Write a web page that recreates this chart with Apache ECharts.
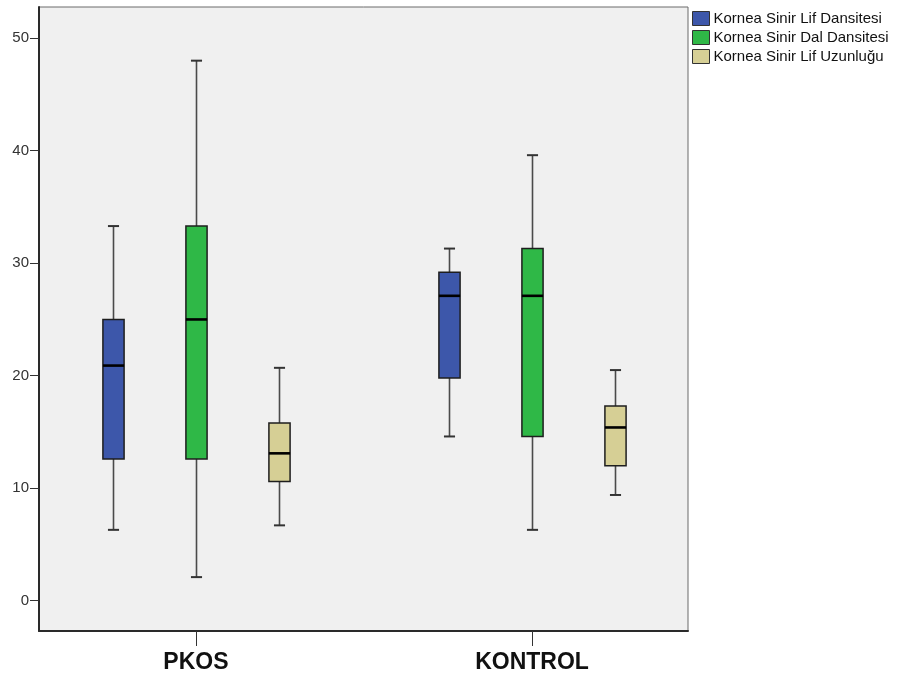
<!DOCTYPE html>
<html>
<head>
<meta charset="utf-8">
<script src="https://cdn.jsdelivr.net/npm/echarts@6/dist/echarts.min.js"></script>
<style>
html,body{margin:0;padding:0;background:#fff;}
#chart{width:897px;height:679px;}
</style>
</head>
<body>
<div id="chart"></div>
<script>
// Categories and series
const categories = ['PKOS', 'KONTROL'];
const seriesNames = ['Kornea Sinir Lif Dansitesi', 'Kornea Sinir Dal Dansitesi', 'Kornea Sinir Lif Uzunluğu'];
const yTicks = [0, 10, 20, 30, 40, 50];
// [min, Q1, median, Q3, max] per category
const lifDansitesi = [[6.3, 12.6, 20.9, 25.0, 33.3], [14.6, 19.8, 27.1, 29.2, 31.3]];
const dalDansitesi = [[2.1, 12.6, 25.0, 33.3, 48.0], [6.3, 14.6, 27.1, 31.3, 39.6]];
const lifUzunlugu  = [[6.7, 10.6, 13.1, 15.8, 20.7], [9.4, 12.0, 15.4, 17.3, 20.5]];

const allSeries = [lifDansitesi, dalDansitesi, lifUzunlugu];
const colors = ['#3d57aa', '#2fb847', '#d6cf95'];
const offsets = [-0.247, 0, 0.247];
const boxW = 0.063;
const capW = 0.033;

function renderBox(params, api) {
  const x = api.value(0);
  const pMin = api.coord([x, api.value(1)]);
  const pQ1 = api.coord([x, api.value(2)]);
  const pMed = api.coord([x, api.value(3)]);
  const pQ3 = api.coord([x, api.value(4)]);
  const pMax = api.coord([x, api.value(5)]);
  const hw = api.size([boxW, 0])[0] / 2;
  const cw = api.size([capW, 0])[0] / 2;
  const cx = Math.round(pMed[0]) + 0.5;
  const fill = api.visual('color');
  const wStyle = { stroke: '#4a4a4a', lineWidth: 1.6 };
  return {
    type: 'group',
    children: [
      { type: 'line', shape: { x1: cx, y1: pMax[1], x2: cx, y2: pQ3[1] }, style: wStyle },
      { type: 'line', shape: { x1: cx, y1: pQ1[1], x2: cx, y2: pMin[1] }, style: wStyle },
      { type: 'line', shape: { x1: cx - cw, y1: pMax[1], x2: cx + cw, y2: pMax[1] }, style: { stroke: '#333', lineWidth: 2 } },
      { type: 'line', shape: { x1: cx - cw, y1: pMin[1], x2: cx + cw, y2: pMin[1] }, style: { stroke: '#333', lineWidth: 2 } },
      { type: 'rect', shape: { x: cx - hw, y: pQ3[1], width: 2 * hw, height: pQ1[1] - pQ3[1] },
        style: { fill: fill, stroke: '#1e1e1e', lineWidth: 1.5 } },
      { type: 'line', shape: { x1: cx - hw, y1: pMed[1], x2: cx + hw, y2: pMed[1] }, style: { stroke: '#000', lineWidth: 2.6 } }
    ]
  };
}

const series = allSeries.map(function (arr, si) {
  return {
    name: seriesNames[si],
    type: 'custom',
    renderItem: renderBox,
    itemStyle: { color: colors[si], borderColor: '#222', borderWidth: 1 },
    encode: { x: 0, y: [1, 2, 3, 4, 5] },
    data: arr.map(function (v, ci) { return [ci + offsets[si]].concat(v); })
  };
});

const chart = echarts.init(document.getElementById('chart'), null, { renderer: 'canvas' });
chart.setOption({
  animation: false,
  backgroundColor: '#ffffff',
  color: colors,
  grid: {
    left: 39, right: 209, top: 7, bottom: 48,
    show: true, backgroundColor: '#f0f0f0', borderColor: '#6a6a6a', borderWidth: 1
  },
  legend: {
    orient: 'vertical',
    left: 692, top: 11,
    padding: 0,
    icon: 'rect',
    itemWidth: 17, itemHeight: 14, itemGap: 4,
    data: seriesNames,
    itemStyle: { borderColor: '#333', borderWidth: 1 },
    textStyle: { fontFamily: 'Liberation Sans, Arial, sans-serif', fontSize: 15, color: '#111', padding: [0, 0, 0, -1] }
  },
  xAxis: {
    type: 'value',
    min: -0.467, max: 1.464,
    splitLine: { show: false },
    axisLine: { show: true, onZero: false, lineStyle: { color: '#2a2a2a', width: 2 } },
    axisTick: { show: true, customValues: [0, 1], length: 15, lineStyle: { color: '#333', width: 1 } },
    axisLabel: {
      customValues: [0, 1],
      formatter: function (v) { return categories[Math.round(v)]; },
      fontFamily: 'Liberation Sans, Arial, sans-serif',
      fontSize: 23, fontWeight: 'bold', color: '#111', margin: 20
    }
  },
  yAxis: {
    type: 'value',
    min: -2.69, max: 52.77,
    splitLine: { show: false },
    axisLine: { show: true, onZero: false, lineStyle: { color: '#2a2a2a', width: 2 } },
    axisTick: { show: true, customValues: yTicks, length: 9, lineStyle: { color: '#333', width: 1 } },
    axisLabel: {
      customValues: yTicks,
      fontFamily: 'Liberation Sans, Arial, sans-serif',
      fontSize: 15, color: '#333', margin: 10
    }
  },
  series: series
});
</script>
</body>
</html>
